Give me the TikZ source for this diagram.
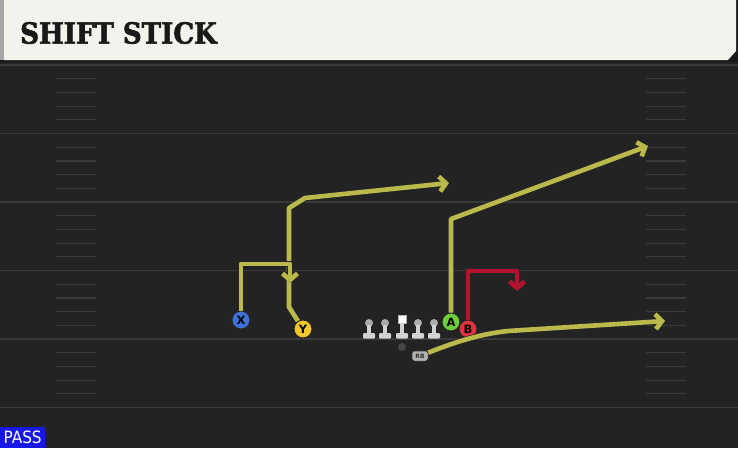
\documentclass[tikz,border=0pt]{standalone}
\usepackage{fontspec}
\usepackage{xcolor}
\usetikzlibrary{arrows.meta}
\newfontfamily\titlefont{DejaVu Serif Condensed Bold}[FakeBold=2]
\newfontfamily\labelfont{DejaVu Sans Bold}
\newfontfamily\passfont{DejaVu Sans Condensed}
\definecolor{fieldbg}{HTML}{232323}
\definecolor{yardline}{HTML}{393939}
\definecolor{titlebg}{HTML}{F4F2EC}
\definecolor{routeyel}{HTML}{BABA4C}
\definecolor{routered}{HTML}{B31330}
\definecolor{xblue}{HTML}{3F72D6}
\definecolor{yyellow}{HTML}{F2C72C}
\definecolor{agreen}{HTML}{6BCF3C}
\definecolor{bred}{HTML}{E2323E}
\definecolor{olgray}{HTML}{D2D2D2}
\definecolor{passblue}{HTML}{1818E4}

\begin{document}
\begin{tikzpicture}[x=1pt, y=-1pt,
    route/.style={draw=routeyel, line width=4.6pt, line join=round, -{Straight Barb[length=6.5pt, width=15pt]},
        preaction={draw=black!85, line width=6pt}},
    player/.style={circle, draw=black!85, line width=1pt, minimum size=18pt, inner sep=0pt, font=\labelfont\fontsize{11.5}{11.5}\selectfont}]
    \useasboundingbox (0,0) rectangle (738,448);

    % Поле
    \fill[fieldbg] (0,0) rectangle (738,448);
    \foreach \y in {65,133.5,202,270.5,339,407.5} {
        \draw[yardline, line width=1.6pt] (0,\y) -- (738,\y);
    }
    \foreach \y in {65,133.5,202,270.5,339} {
        \foreach \k in {1,...,4} {
            \draw[yardline, line width=1.2pt] (56,\y+\k*13.7) -- (96,\y+\k*13.7);
            \draw[yardline, line width=1.2pt] (646,\y+\k*13.7) -- (686,\y+\k*13.7);
        }
    }

    % Заголовок
    \fill[black!90] (0,0) rectangle (738,62);
    \fill[titlebg] (4,0) -- (736,0) -- (736,51) -- (728,60) -- (4,60) -- cycle;
    \fill[gray!70] (0,0) rectangle (4,60);
    \node[anchor=west, inner sep=0pt, text=black!90, font=\titlefont\fontsize{29}{29}\selectfont] (title) at (20,33) {SHIFT STICK};

    % Линия
    \foreach \x [count=\i] in {369,385,418,434} {
        \fill[gray!65] (\x,323) circle (4);
        \fill[olgray] (\x-2.2,325) rectangle (\x+2.2,334);
        \fill[olgray, rounded corners=1pt] (\x-6,333) rectangle (\x+6,338.5);
        \coordinate (L\i) at (\x,330);
    }
    \fill[white, draw=gray!60, line width=0.6pt] (398,315) rectangle (406,323);
    \fill[olgray] (399.8,323) rectangle (404.2,334);
    \fill[olgray, rounded corners=1pt] (396,333) rectangle (408,338.5);
    \node[circle, fill=gray!55!black, minimum size=8pt, inner sep=0pt] (QB) at (402,347) {};
    \node[rounded corners=2.5pt, fill=gray!60, draw=black!80, line width=0.5pt, minimum width=16pt, minimum height=10pt, inner sep=0pt, font=\labelfont\fontsize{6}{6}\selectfont, text=black!80] (RB) at (420,356) {RB};

    % Игроки
    \node[player, fill=xblue] (X) at (241,320) {X};
    \node[player, fill=yyellow] (Y) at (303,329) {Y};
    \node[player, fill=agreen] (A) at (451,322) {A};
    \node[player, fill=bred] (B) at (468,329) {B};

    % Маршруты
    \coordinate (xEnd) at (290,283);
    \coordinate (yEnd) at (449,183);
    \coordinate (aEnd) at (648,146);
    \coordinate (bEnd) at (517,291);
    \coordinate (rbEnd) at (665,321);
    \draw[route] (Y) -- (289,307) -- (289,208) -- (305,198) -- (yEnd);
    \draw[route] (X) |- (290,264) -- (xEnd);
    \draw[route] (A) -- (451,219) -- (aEnd);
    \draw[route, draw=routered] (B) |- (517,271) -- (bEnd);
    \draw[route] (RB) .. controls (455,342) and (480,334) .. (508,331) -- (rbEnd);

    % Метка
    \node[fill=passblue, text=white, anchor=south west, minimum width=45pt, minimum height=21pt, inner sep=0pt, font=\passfont\fontsize{17}{17}\selectfont] (pass) at (0,448) {PASS};
\end{tikzpicture}
\end{document}
